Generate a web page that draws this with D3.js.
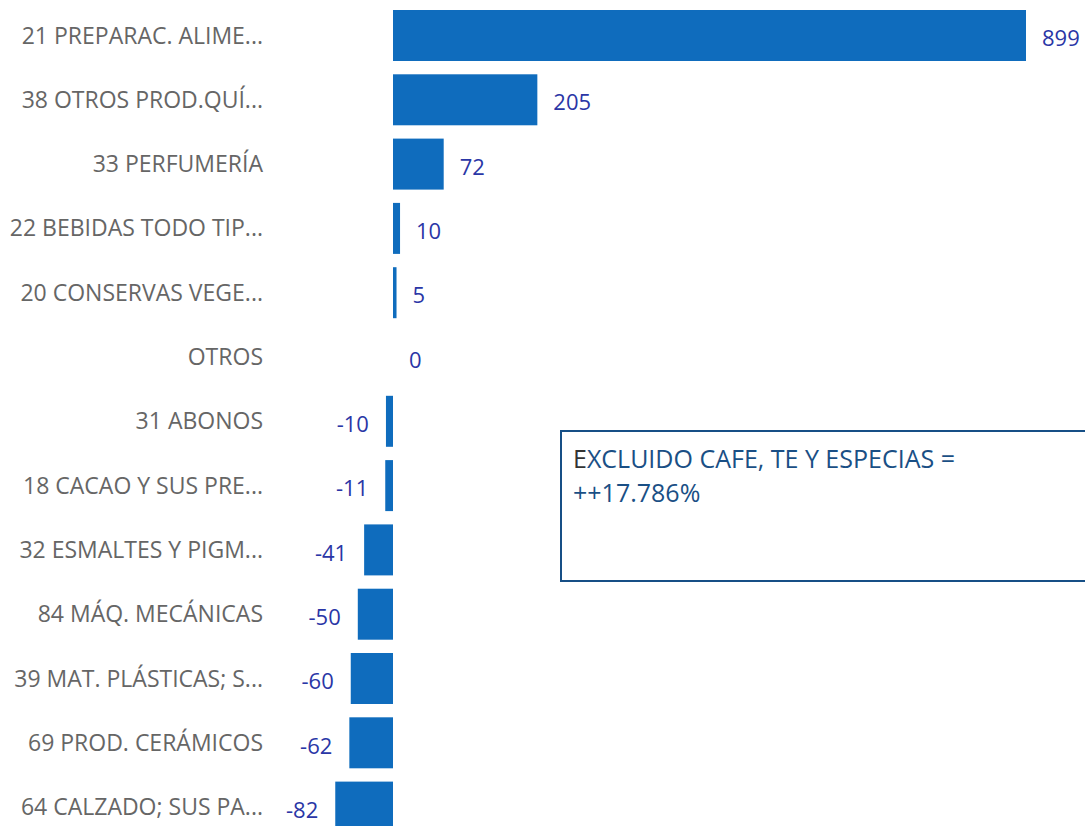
<!DOCTYPE html>
<html>
<head>
<meta charset="utf-8">
<script src="https://cdn.jsdelivr.net/npm/d3@7"></script>
<style>
  body { margin: 0; background: #fff; }
  text { font-family: "Open Sans", "Noto Sans", sans-serif; }
</style>
</head>
<body>
<script>
// categories top to bottom, values as shown on the labels
var categories = [
  "21 PREPARAC. ALIME...",
  "38 OTROS PROD.QUÍ...",
  "33 PERFUMERÍA",
  "22 BEBIDAS TODO TIP...",
  "20 CONSERVAS VEGE...",
  "OTROS",
  "31 ABONOS",
  "18 CACAO Y SUS PRE...",
  "32 ESMALTES Y PIGM...",
  "84 MÁQ. MECÁNICAS",
  "39 MAT. PLÁSTICAS; S...",
  "69 PROD. CERÁMICOS",
  "64 CALZADO; SUS PA..."
];
var values = [899, 205, 72, 10, 5, 0, -10, -11, -41, -50, -60, -62, -82];

// text of the note box
var noteLines = ["EXCLUIDO CAFE, TE Y ESPECIAS =", "++17.786%"];

var width = 1085;
var height = 826;

var svg = d3.select("body")
  .append("svg")
  .attr("width", width)
  .attr("height", height);

// zero sits at x=393, 899 ends at x=1026
var x = d3.scaleLinear()
  .domain([0, 899])
  .range([393, 1026]);

// step of about 64px, bars 51px tall, last row runs past the bottom
var y = d3.scaleBand()
  .domain(categories)
  .range([10, 832.6])
  .paddingInner(0.207)
  .paddingOuter(0);

var rows = svg.selectAll("g.row")
  .data(categories)
  .enter()
  .append("g")
  .attr("class", "row");

rows.append("rect")
  .attr("x", function(d, i) { return Math.min(x(0), x(values[i])); })
  .attr("y", function(d) { return y(d); })
  .attr("width", function(d, i) { return Math.abs(x(values[i]) - x(0)); })
  .attr("height", y.bandwidth())
  .attr("fill", "#0f6cbd");

// category labels on the left
rows.append("text")
  .attr("x", 263)
  .attr("y", function(d) { return y(d) + y.bandwidth() / 2; })
  .attr("dy", ".35em")
  .attr("text-anchor", "end")
  .style("font-size", "23px")
  .style("fill", "#666666")
  .text(function(d) { return d; });

// value labels, outside the bar end
rows.append("text")
  .attr("x", function(d, i) {
    return values[i] < 0 ? x(values[i]) - 17 : x(values[i]) + 16;
  })
  .attr("y", function(d) { return y(d) + y.bandwidth() / 2 + 3; })
  .attr("dy", ".35em")
  .attr("text-anchor", function(d, i) { return values[i] < 0 ? "end" : "start"; })
  .style("font-size", "22px")
  .style("fill", "#2a36a6")
  .text(function(d, i) { return values[i]; });

// note box, running off the right edge
var note = svg.append("g");

note.append("rect")
  .attr("x", 561)
  .attr("y", 431)
  .attr("width", 540)
  .attr("height", 150)
  .attr("fill", "none")
  .attr("stroke", "#164f86")
  .attr("stroke-width", 2);

var line1 = note.append("text")
  .attr("x", 573)
  .attr("y", 468)
  .style("font-size", "25px")
  .style("fill", "#1a4f85");

// first letter is darker in the original
line1.append("tspan").style("fill", "#333333").text(noteLines[0].slice(0, 1));
line1.append("tspan").text(noteLines[0].slice(1));

note.append("text")
  .attr("x", 573)
  .attr("y", 502)
  .style("font-size", "25px")
  .style("fill", "#1a4f85")
  .text(noteLines[1]);
</script>
</body>
</html>
